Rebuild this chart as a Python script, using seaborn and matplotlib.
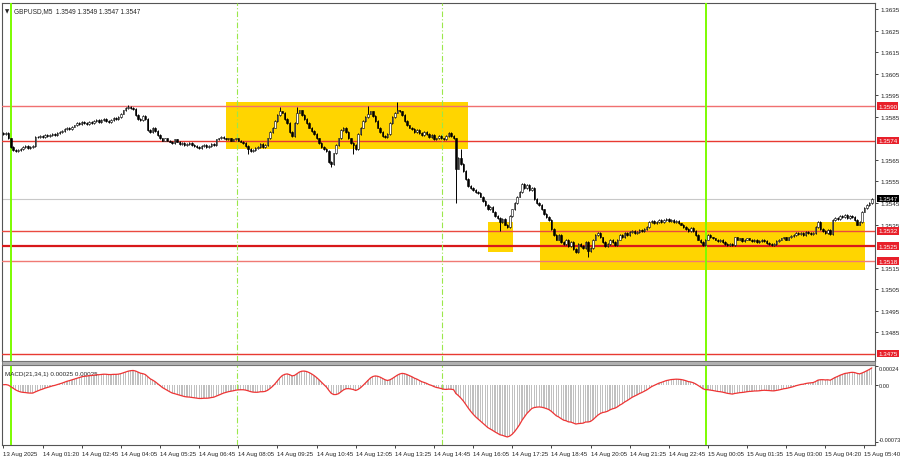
import numpy as np
import pandas as pd
import matplotlib
matplotlib.use("Agg")
import matplotlib.pyplot as plt
import matplotlib.transforms as mtransforms
from matplotlib.patches import Rectangle
import seaborn as sns

### ==================== DATA ==================== ###

# GBPUSD M5 closes, in pips above 1.3500 (bar by bar-ish)
close_pips = [
    77, 77.5, 75,
    71, 69.5, 69, 69.5, 70, 71, 71.5, 70.5, 71, 71.5,
    75.5,
    75.5, 76, 75.5, 76.5, 76, 76.5, 77, 76.5, 77.5, 78,
    78.5, 79.5, 80, 79.5, 80.5, 81, 82, 81.5, 82.5, 82, 81.5, 82.5, 82,
    83, 83.5, 82.5, 83.5, 84, 83, 82.5, 83.5, 84.5, 84,
    85, 86.5, 88, 89, 89.5, 89,
    88.5, 86, 84,
    83.5, 85.5, 84, 79,
    78, 80, 78.5,
    76.5, 75, 74, 75, 74, 73.5,
    73, 74.5, 73.5, 72.5, 73, 72, 72.5, 73, 72, 71.5,
    71, 70.5, 71.5, 72, 71, 71.5, 72.5, 72,
    74.5, 75, 75.5, 75, 74.5,
    75, 74, 74.5, 75, 74, 73.5, 73,
    71.5, 70, 69, 69.5, 70.5,
    71, 72.5, 71, 72,
    75, 78, 80, 83, 86, 87.5,
    87, 84, 82,
    78, 76,
    82, 87, 88,
    86, 84, 82,
    80, 78.5, 77,
    75, 73, 71,
    70, 69,
    64, 63,
    68, 72, 75,
    79, 80, 78,
    75, 73, 72, 70,
    77, 80, 83,
    85, 86.5, 87.5, 85.5,
    83, 80, 78, 76,
    75.5, 77,
    82, 85, 87,
    88, 87.5, 86,
    83, 81, 80, 79.5,
    78, 79, 77.5, 76.5, 78,
    77, 75.5, 76.5, 74.5, 75, 76,
    75, 74.5, 76, 77.5, 76, 75,
    61,
    66, 63, 60,
    56, 53, 52,
    51, 50, 49.5, 48,
    46, 44, 42,
    43, 41, 39,
    38, 36, 37.5, 35, 34,
    39, 42,
    45, 48, 50,
    54, 52, 53.5, 51, 52,
    47, 45, 44,
    42, 40, 38.5, 37,
    33, 30, 28,
    30, 27, 26, 28, 25,
    27, 23.5, 22, 26, 25, 24, 27, 22.5, 24,
    28, 30, 31,
    29, 27, 25, 26,
    28, 27, 25.5,
    28, 30, 29, 31, 30, 31.5,
    32, 31, 31.5, 32.5, 32, 33, 34,
    36, 36.5, 35.5, 36, 37, 36,
    37, 37.5, 36.5, 37, 36, 36.5, 35.5,
    35, 34, 33, 32, 33.5, 32,
    30, 28, 27, 25.5, 28,
    30, 29, 28.5, 28, 27.5, 28,
    27, 26, 25.5, 26, 25.5, 29,
    28, 28.5, 27.5, 28, 28.5, 28, 27.5, 28, 27, 27.5, 28, 27.5,
    26.5, 26, 25.5, 26,
    27.5, 28, 28.5, 29, 28, 29, 29.5,
    30, 31, 30.5, 31, 30, 31.5, 31, 30.5, 31,
    34, 36, 33,
    32, 31, 32.5, 30.5,
    37, 38, 37.5,
    39, 38.5, 39.5, 38, 39, 38.5, 37,
    35, 36,
    41, 42.5, 44, 45, 47,
]

# long wicks that stick out (bar index -> pips)
spike_highs = {51: 90.5, 113: 89.5, 120: 89.5, 149: 90, 161: 92, 187: 70}
spike_lows = {100: 67.7, 134: 61.5, 143: 67.7, 185: 45, 203: 32, 239: 20}

# horizontal levels drawn on the chart
levels = [1.3590, 1.3574, 1.3532, 1.3525, 1.3518, 1.3475]
level_colors = ["#f07070", "#e83a32", "#ea4a40", "#d8181a", "#f07a74", "#e83a32"]
level_widths = [1.0, 1.0, 1.0, 1.6, 1.0, 1.0]
current_price = 1.3547

# yellow zones
box_start = [91, 198, 219.2]
box_end = [189.8, 208.2, 352.2]
box_low = [1.3570, 1.3522, 1.3514]
box_high = [1.3592, 1.3536, 1.3536]

# vertical markers (bar positions)
day_lines = [2.9, 287.3]
session_lines = [95.5, 179.2]

tick_bars = list(range(0, 353, 16))
tick_labels = [
    "13 Aug 2025", "14 Aug 01:20", "14 Aug 02:45", "14 Aug 04:05",
    "14 Aug 05:25", "14 Aug 06:45", "14 Aug 08:05", "14 Aug 09:25",
    "14 Aug 10:45", "14 Aug 12:05", "14 Aug 13:25", "14 Aug 14:45",
    "14 Aug 16:05", "14 Aug 17:25", "14 Aug 18:45", "14 Aug 20:05",
    "14 Aug 21:25", "14 Aug 22:45", "15 Aug 00:05", "15 Aug 01:35",
    "15 Aug 03:00", "15 Aug 04:20", "15 Aug 05:40",
]

price_ticks = [1.3475, 1.3485, 1.3495, 1.3505, 1.3515, 1.3525, 1.3535,
               1.3545, 1.3555, 1.3565, 1.3575, 1.3585, 1.3595, 1.3605,
               1.3615, 1.3625, 1.3635]

macd_ticks = [0.00024, 0.0, -0.00073]
macd_tick_labels = ["0.00024", "0.00", "-0.00073"]

header = "GBPUSD,M5  1.3549 1.3549 1.3547 1.3547"
macd_header = "MACD(21,34,1) 0.00025 0.00025"

### ==================== PREP ==================== ###

close = 1.35 + np.array(close_pips) / 1e4
open_ = np.r_[close[0] + 0.00005, close[:-1]]
hi = np.maximum(open_, close) + 0.00004
lo = np.minimum(open_, close) - 0.00004
for b, v in spike_highs.items():
    hi[b] = max(hi[b], 1.35 + v / 1e4)
for b, v in spike_lows.items():
    lo[b] = min(lo[b], 1.35 + v / 1e4)
bars = np.arange(len(close))

# MACD(21,34,1): signal SMA(1) is the main line itself
s = pd.Series(close)
macd = (s.ewm(span=21, adjust=False).mean() - s.ewm(span=34, adjust=False).mean()).values
macd_df = pd.DataFrame({"bar": bars, "macd": macd})

### ==================== PLOT ==================== ###

sns.set_style("white")
plt.rcParams["font.family"] = ["Liberation Sans", "DejaVu Sans"]
FS = 4.5

fig = plt.figure(figsize=(9, 4.6), dpi=100)
ax = fig.add_axes([0.0022, 0.213, 0.970, 0.778])
ax2 = fig.add_axes([0.0022, 0.0304, 0.970, 0.174])

# separator band between panels
fig.patches.append(Rectangle((0.0022, 0.204), 0.970, 0.009, transform=fig.transFigure,
                             facecolor="#b0b0b0", edgecolor="#707070", lw=0.6))

xlim = (-0.6, 356.3)

# --- main price panel ---
for x0, x1, y0, y1 in zip(box_start, box_end, box_low, box_high):
    ax.add_patch(Rectangle((x0, y0), x1 - x0, y1 - y0, facecolor="#ffd500",
                           edgecolor="none", zorder=1))

ax.axhline(current_price, color="#c8c8c8", lw=0.8, zorder=2)
for lev, c, w in zip(levels, level_colors, level_widths):
    ax.axhline(lev, color=c, lw=w, zorder=3)

for d in day_lines:
    ax.axvline(d, color="#7cfc00", lw=1.4, zorder=3)
    ax2.axvline(d, color="#7cfc00", lw=1.4, zorder=3)
for d in session_lines:
    ax.axvline(d, color="#9be84a", lw=0.8, ls=(0, (5, 2, 1, 2)), zorder=3)
    ax2.axvline(d, color="#9be84a", lw=0.8, ls=(0, (5, 2, 1, 2)), zorder=3)

up = close >= open_
body_h = np.maximum(np.abs(close - open_), 0.00002)
body_b = np.minimum(open_, close)
ax.vlines(bars, lo, hi, color="black", lw=0.7, zorder=4)
ax.bar(bars[up], body_h[up], bottom=body_b[up], width=0.6, color="white",
       edgecolor="black", lw=0.4, zorder=5)
ax.bar(bars[~up], body_h[~up], bottom=body_b[~up], width=0.6, color="black",
       edgecolor="black", lw=0.4, zorder=5)

ax.set_xlim(*xlim)
ax.set_ylim(1.34716, 1.36378)
ax.set_xticks([])
ax.yaxis.tick_right()
shown = [t for t in price_ticks
         if min(abs(t - l) for l in levels + [current_price]) > 0.00015]
ax.set_yticks(shown)
ax.set_yticklabels([f"{t:.4f}" for t in shown])
ax.tick_params(axis="y", right=True, length=2.5, width=0.6, labelsize=FS, pad=1.5,
               colors="#222222")

trans = mtransforms.blended_transform_factory(ax.transAxes, ax.transData)
for lev in levels:
    ax.text(1.0035, lev, f"{lev:.4f}", transform=trans, va="center", ha="left",
            fontsize=FS, color="white", clip_on=False, zorder=10,
            bbox=dict(boxstyle="square,pad=0.2", fc="#e8202a", ec="none"))
ax.text(1.0035, current_price, f"{current_price:.4f}", transform=trans, va="center",
        ha="left", fontsize=FS, color="white", clip_on=False, zorder=10,
        bbox=dict(boxstyle="square,pad=0.2", fc="black", ec="none"))

ax.text(0.004, 0.986, "\u25bc", transform=ax.transAxes, fontsize=4, va="top",
        ha="left", family=["DejaVu Sans"])
ax.text(0.0135, 0.988, header, transform=ax.transAxes, fontsize=FS + 0.2,
        va="top", ha="left")

for sp in ax.spines.values():
    sp.set_color("#555555")
    sp.set_linewidth(0.8)

# --- MACD panel ---
sns.barplot(data=macd_df, x="bar", y="macd", native_scale=True, color="#c0c0c0",
            width=0.5, linewidth=0, errorbar=None, saturation=1, ax=ax2, zorder=2)
sns.lineplot(data=macd_df, x="bar", y="macd", color="#ee3434", lw=0.9, ax=ax2, zorder=4)

ax2.set_xlim(*xlim)
ax2.set_ylim(-0.00077, 0.000252)
ax2.yaxis.tick_right()
ax2.set_yticks(macd_ticks)
ax2.set_yticklabels(macd_tick_labels)
ax2.tick_params(axis="y", right=True, length=2, width=0.6, labelsize=FS - 0.4, pad=1,
                colors="#222222")
ylabels = ax2.get_yticklabels()
ylabels[0].set_va("top")
ylabels[2].set_va("bottom")
ax2.set_xticks(tick_bars)
ax2.set_xticklabels(tick_labels)
for lbl in ax2.get_xticklabels():
    lbl.set_ha("left")
ax2.tick_params(axis="x", bottom=True, length=2.5, width=0.6, labelsize=FS - 0.1,
                pad=2, colors="#222222")
ax2.set_xlabel("")
ax2.set_ylabel("")
ax2.text(0.004, 0.93, macd_header, transform=ax2.transAxes, fontsize=FS,
         va="top", ha="left")
for sp in ax2.spines.values():
    sp.set_color("#555555")
    sp.set_linewidth(0.8)

fig.savefig("out.png", dpi=100, facecolor="white")
